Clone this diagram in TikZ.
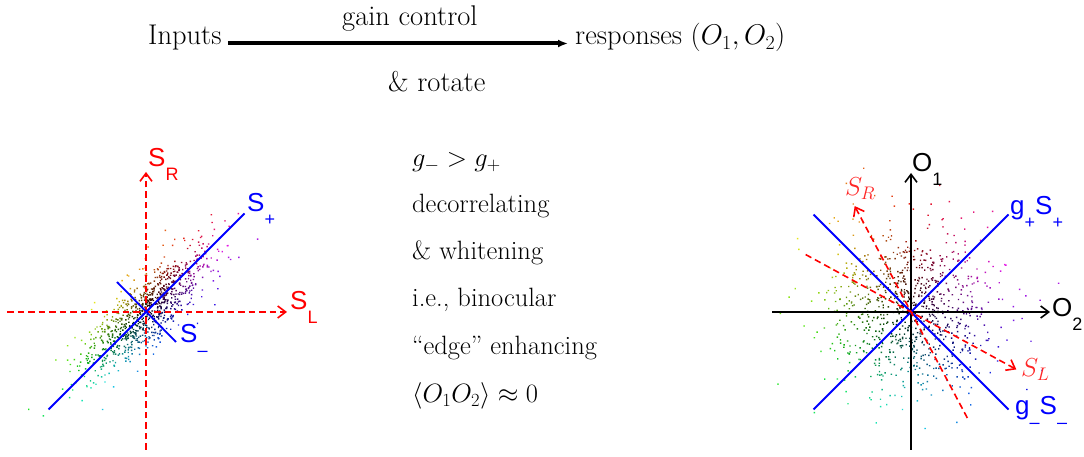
\RequirePackage{fix-cm}
\documentclass[tikz,border=0pt]{standalone}
\usepackage{amsmath}
\usepackage{fontspec}
\setsansfont{Liberation Sans}
\usepackage{tikz}
\usetikzlibrary{arrows.meta}

% sans axis label with a low subscript
\newcommand{\axlab}[2]{\sffamily\fontsize{26}{26}\selectfont #1\raisebox{-14pt}{\fontsize{18}{18}\selectfont #2}}

\begin{document}
\begin{tikzpicture}[
    x=1pt, y=1pt,
    txt/.style={inner sep=0pt, anchor=base west, font=\fontsize{28.5}{32}\selectfont},
    mid/.style={inner sep=0pt, anchor=base west, font=\fontsize{26.5}{30}\selectfont},
    axlbl/.style={inner sep=0pt, anchor=base west},
    redaxis/.style={red, line width=1.6pt, dash pattern=on 6.5pt off 4pt, -{Straight Barb[length=8pt,width=12pt]}},
    blkaxis/.style={black, line width=1.6pt, -{Straight Barb[length=8pt,width=12pt]}},
    blueaxis/.style={blue, line width=1.8pt}
]
    \useasboundingbox (0,0) rectangle (1084,457);

    % Top row
    \node[txt] (inp) at (148,412) {Inputs};
    \node[txt] (resp) at (575,412) {responses $(O_1,O_2)$};
    \node[txt] (gain) at (342,431) {gain control};
    \node[txt] (rot) at (388,365.3) {\& rotate};
    \draw[line width=4pt, -{Latex[length=10pt,width=8pt]}, shorten <=6pt, shorten >=7pt]
        ([yshift=1.5pt]inp.base east) -- ([yshift=1.5pt]resp.base west);

    % Middle column
    \node[mid] (ineq) at (412,290.3) {$g_- > g_+$};
    \node[mid] (decor) at (412,244.3) {decorrelating};
    \node[mid] (white) at (412,197) {\& whitening};
    \node[mid] (bino) at (412,150.3) {i.e., binocular};
    \node[mid] (edge) at (412,102) {``edge'' enhancing};
    \node[mid] (corr) at (412,54) {$\langle O_1O_2\rangle\approx 0$};

    % Scatter clouds, same samples for both plots
    \coordinate (cL) at (146,145);
    \coordinate (cR) at (911,145);
    \pgfmathsetseed{2718}
    \foreach \k in {1,...,900}{
        \pgfmathsetmacro\rr{sqrt(-2*ln(max(rnd,0.002)))}
        \pgfmathsetmacro\ph{360*rnd}
        \pgfmathsetmacro\hh{mod(318+\ph,360)}
        \pgfmathsetmacro\bb{min(0.9,0.05+0.36*\rr)}
        \definecolor{dotc}{Hsb}{\hh,0.9,\bb}
        \fill[dotc, shift={(cL)}, rotate=45] (\ph:{45*\rr} and {14*\rr}) circle (1pt);
        \fill[dotc, shift={(cR)}, rotate=45] (\ph:{43*\rr}) circle (1pt);
    }

    % Left plot
    \coordinate (lw) at (7,145);
    \coordinate (le) at (287,145);
    \coordinate (ls) at (146,7);
    \coordinate (ln) at (146,285);
    \draw[redaxis] (lw) -- (le);
    \draw[redaxis] (ls) -- (ln);
    \node[axlbl, red] (sl) at (290,147) {\axlab{S}{L}};
    \node[axlbl, red] (sr) at (148,290.3) {\axlab{S}{R}};
    \coordinate (pa) at (48.5,47.5);
    \coordinate (pb) at (244.5,243.5);
    \coordinate (ma) at (117,175);
    \coordinate (mb) at (176,115);
    \draw[blueaxis] (pa) -- (pb);
    \draw[blueaxis] (ma) -- (mb);
    \node[axlbl, blue] (splus) at (247,245) {\axlab{S}{+}};
    \node[axlbl, blue] (sminus) at (180,114) {\axlab{S}{\textendash}};

    % Right plot
    \coordinate (rw) at (772,145);
    \coordinate (re) at (1050,145);
    \coordinate (rs) at (911,7);
    \coordinate (rn) at (911,284);
    \draw[blkaxis] (rw) -- (re);
    \draw[blkaxis] (rs) -- (rn);
    \node[axlbl] (o2) at (1052,140) {\axlab{O}{2}};
    \node[axlbl] (o1) at (912,285) {\axlab{O}{1}};
    \coordinate (ga) at (813.5,47.5);
    \coordinate (gb) at (1008.5,242.5);
    \coordinate (gc) at (813.5,242.5);
    \coordinate (gd) at (1008.5,47.5);
    \draw[blueaxis] (ga) -- (gb);
    \draw[blueaxis] (gc) -- (gd);
    \node[axlbl, blue] (gplus) at (1010,242) {\axlab{g}{+}\axlab{S}{+}};
    \node[axlbl, blue] (gminus) at (1015,42) {\axlab{g}{\textendash}\axlab{S}{\textendash}};
    \coordinate (srb) at ([shift={(298:120)}]cR);
    \coordinate (srf) at ([shift={(118:120)}]cR);
    \coordinate (slb) at ([shift={(151.4:120)}]cR);
    \coordinate (slf) at ([shift={(-28.6:120)}]cR);
    \draw[redaxis] (srb) -- (srf);
    \draw[redaxis] (slb) -- (slf);
    \node[axlbl, red!85] (srlbl) at (845,261) {\fontsize{26}{26}\selectfont $S_R$};
    \node[axlbl, red!85] (sllbl) at (1021,80) {\fontsize{26}{26}\selectfont $S_L$};

\end{tikzpicture}
\end{document}
